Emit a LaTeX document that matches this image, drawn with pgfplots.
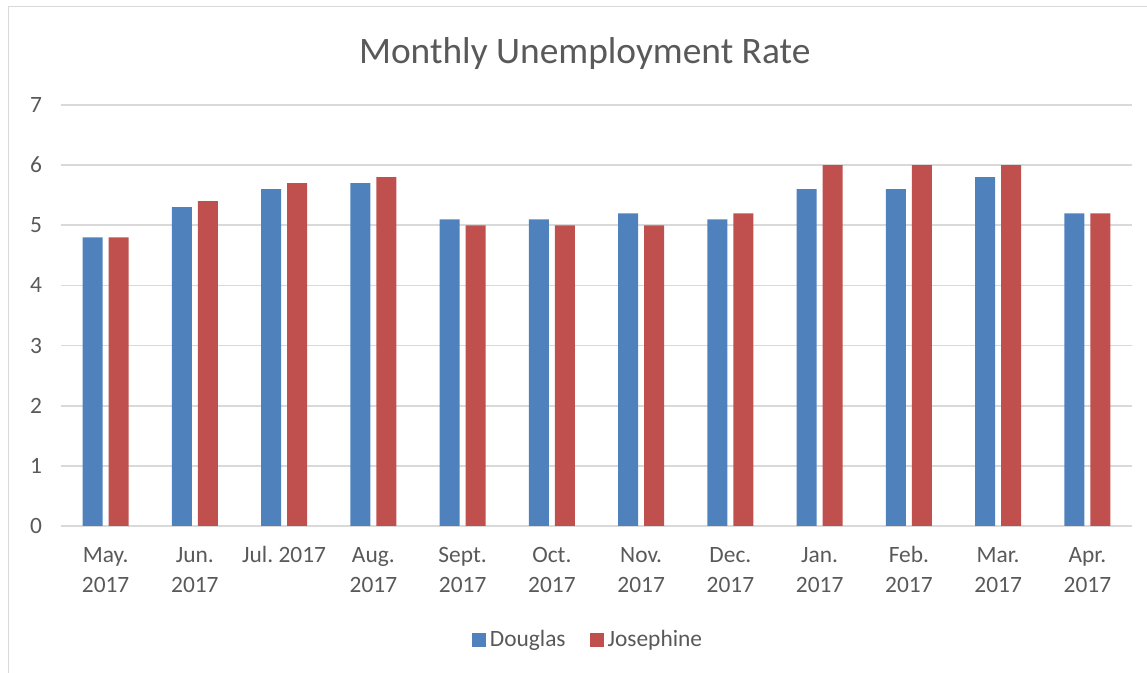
\documentclass[border=0pt]{standalone}
\usepackage{pgfplots}
\pgfplotsset{compat=1.18}
\usepackage{fontspec}
\setmainfont{Carlito}
\frenchspacing
\definecolor{dblue}{HTML}{4F81BD}
\definecolor{jred}{HTML}{C0504D}
\definecolor{gridc}{HTML}{D9D9D9}
\definecolor{txt}{HTML}{595959}
\newcommand{\TL}[2]{\strut #1\\\strut #2}
\begin{document}
\begin{tikzpicture}[x=1pt,y=1pt]
\path[use as bounding box] (0,0) rectangle (573.5,336.5);
\draw[gridc, line width=0.8pt] (4.2,0) -- (4.2,333.2) -- (573.5,333.2);
\begin{axis}[
  at={(30.5pt,73.5pt)}, anchor=south west,
  scale only axis, width=535.5pt, height=210.5pt,
  ybar=3pt, bar width=10pt,
  xmin=-0.5, xmax=11.5, ymin=0, ymax=7,
  xtick=data,
  xticklabels={{\TL{May.}{2017}},{\TL{Jun.}{2017}},{\TL{Jul. 2017}{}},{\TL{Aug.}{2017}},{\TL{Sept.}{2017}},{\TL{Oct.}{2017}},{\TL{Nov.}{2017}},{\TL{Dec.}{2017}},{\TL{Jan.}{2017}},{\TL{Feb.}{2017}},{\TL{Mar.}{2017}},{\TL{Apr.}{2017}}},
  xticklabel style={align=center, font=\fontsize{11.7}{15}\selectfont, text=txt, anchor=north, yshift=-6.5pt, inner sep=1pt},
  ytick={0,1,...,7},
  yticklabel style={font=\fontsize{11.7}{14}\selectfont, text=txt, xshift=-6pt},
  /pgf/number format/assume math mode=true,
  major tick length=0pt,
  ymajorgrids, grid style={gridc, line width=0.8pt},
  axis line style={draw=none},
  axis x line*=bottom, axis y line*=left,
  x axis line style={draw=gridc, line width=0.8pt},
  title={Monthly Unemployment Rate},
  title style={at={(0.489,1.13)}, anchor=center, yshift=-7.5pt, font=\fontsize{18.7}{20}\selectfont, text=txt},
  legend style={at={(0.493,-0.271)}, anchor=center, draw=none, legend columns=2,
    font=\fontsize{11.7}{14}\selectfont, text=txt,
    /tikz/every even column/.append style={column sep=10pt}},
  legend image code/.code={\fill[#1] (0pt,-3.5pt) rectangle (7pt,3.5pt);},
]
\addplot[fill=dblue, draw=none] coordinates {(0,4.8) (1,5.3) (2,5.6) (3,5.7) (4,5.1) (5,5.1) (6,5.2) (7,5.1) (8,5.6) (9,5.6) (10,5.8) (11,5.2)};
\addplot[fill=jred, draw=none] coordinates {(0,4.8) (1,5.4) (2,5.7) (3,5.8) (4,5.0) (5,5.0) (6,5.0) (7,5.2) (8,6.0) (9,6.0) (10,6.0) (11,5.2)};
\legend{Douglas,Josephine}
\end{axis}
\end{tikzpicture}
\end{document}
